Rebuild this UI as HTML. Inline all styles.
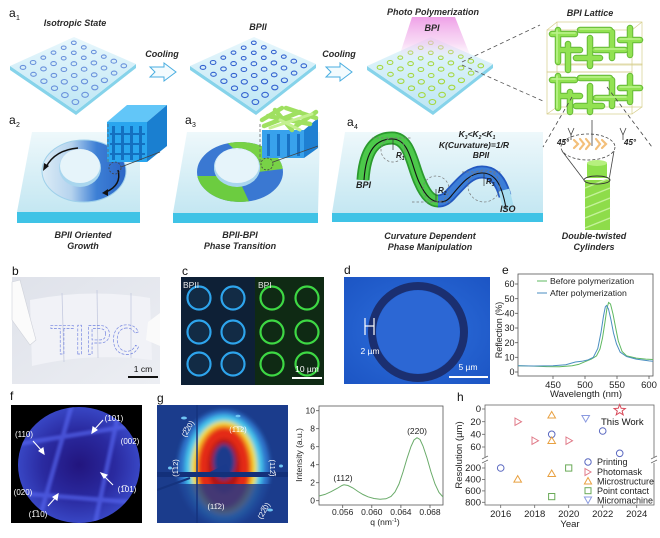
<!DOCTYPE html>
<html><head><meta charset="utf-8"><style>
html,body{margin:0;padding:0;background:#fff;}
svg{display:block;}
text{font-family:"Liberation Sans",Arial,sans-serif;}
.cap{font-weight:bold;font-style:italic;font-size:9px;fill:#2a2a2a;text-anchor:middle;}
.pl{font-size:12px;fill:#111;}
.tk{font-size:9.5px;fill:#222;}
.tk9{font-size:9px;fill:#222;}
.tk8{font-size:8.5px;fill:#222;}
</style></head><body>
<svg width="660" height="538" viewBox="0 0 660 538" xmlns="http://www.w3.org/2000/svg">
<defs>
<linearGradient id="pTop" x1="0" y1="0" x2="0" y2="1"><stop offset="0" stop-color="#e8f7fc"/><stop offset="1" stop-color="#bde6f4"/></linearGradient>
<linearGradient id="slab" x1="0" y1="0" x2="0" y2="1"><stop offset="0" stop-color="#eef8fb"/><stop offset="1" stop-color="#c4e7f2"/></linearGradient>
<linearGradient id="pink" x1="0" y1="0" x2="0" y2="1"><stop offset="0" stop-color="#ee9be6" stop-opacity="0.95"/><stop offset="0.6" stop-color="#f3c0ee" stop-opacity="0.6"/><stop offset="1" stop-color="#f8e0f6" stop-opacity="0"/></linearGradient>
<linearGradient id="ring2" x1="0" y1="0" x2="1" y2="0"><stop offset="0" stop-color="#dcecf6"/><stop offset="0.35" stop-color="#b5d3ee"/><stop offset="0.65" stop-color="#3d7fd5"/><stop offset="1" stop-color="#2b66c6"/></linearGradient>
<radialGradient id="fcirc" cx="0.5" cy="0.5" r="0.5"><stop offset="0" stop-color="#22157e"/><stop offset="0.6" stop-color="#2a2aa0"/><stop offset="1" stop-color="#3846c4"/></radialGradient>
<radialGradient id="dbg" cx="0.5" cy="0.5" r="0.7"><stop offset="0" stop-color="#2e6fdc"/><stop offset="1" stop-color="#1c55c4"/></radialGradient>
<linearGradient id="bphoto" x1="0" y1="0" x2="1" y2="1"><stop offset="0" stop-color="#dfe2ea"/><stop offset="1" stop-color="#eceef3"/></linearGradient>
<filter id="bl"><feGaussianBlur stdDeviation="1.4"/></filter>
<filter id="bl2"><feGaussianBlur stdDeviation="2"/></filter>
<clipPath id="fclip"><ellipse cx="79" cy="465" rx="61" ry="58"/></clipPath>
<clipPath id="gclip"><rect x="157" y="405" width="131" height="118"/></clipPath>
<clipPath id="r3clip"><path d="M197,172 a43,30 0 1,0 86,0 a43,30 0 1,0 -86,0 Z M214,167 a23,19 0 1,1 46,0 a23,19 0 1,1 -46,0 Z" fill-rule="evenodd"/></clipPath>
<g id="plate">
<polygon points="10,66 76,111 136,64 136,68 76,115 10,70" fill="#86d3ea"/>
<polygon points="74,37 136,64 76,111 10,66" fill="url(#pTop)"/>
</g>
<g id="grid" fill="none" stroke-width="1.1">
<ellipse cx="73.8" cy="42.8" rx="2.4" ry="1.7"/><ellipse cx="63.7" cy="47.7" rx="2.4" ry="1.7"/><ellipse cx="53.5" cy="52.6" rx="2.4" ry="1.7"/><ellipse cx="43.3" cy="57.6" rx="2.4" ry="1.7"/><ellipse cx="33.1" cy="62.5" rx="2.8" ry="2"/><ellipse cx="23" cy="67.4" rx="2.8" ry="2"/>
<ellipse cx="83.8" cy="47.4" rx="2.4" ry="1.7"/><ellipse cx="73.8" cy="52.8" rx="2.4" ry="1.7"/><ellipse cx="63.7" cy="58.2" rx="2.4" ry="1.7"/><ellipse cx="53.6" cy="63.6" rx="2.8" ry="2"/><ellipse cx="43.5" cy="68.9" rx="2.8" ry="2"/><ellipse cx="33.5" cy="74.3" rx="2.8" ry="2"/>
<ellipse cx="93.8" cy="52" rx="2.4" ry="1.7"/><ellipse cx="83.8" cy="57.8" rx="2.4" ry="1.7"/><ellipse cx="73.9" cy="63.7" rx="2.8" ry="2"/><ellipse cx="63.9" cy="69.5" rx="2.8" ry="2"/><ellipse cx="53.9" cy="75.4" rx="2.8" ry="2"/><ellipse cx="43.9" cy="81.2" rx="3.1" ry="2.3"/>
<ellipse cx="103.8" cy="56.6" rx="2.4" ry="1.7"/><ellipse cx="93.9" cy="62.9" rx="2.8" ry="2"/><ellipse cx="84.1" cy="69.2" rx="2.8" ry="2"/><ellipse cx="74.2" cy="75.5" rx="2.8" ry="2"/><ellipse cx="64.3" cy="81.8" rx="3.1" ry="2.3"/><ellipse cx="54.5" cy="88.2" rx="3.1" ry="2.3"/>
<ellipse cx="113.8" cy="61.2" rx="2.8" ry="2"/><ellipse cx="104" cy="68" rx="2.8" ry="2"/><ellipse cx="94.2" cy="74.8" rx="2.8" ry="2"/><ellipse cx="84.5" cy="81.5" rx="3.1" ry="2.3"/><ellipse cx="74.7" cy="88.3" rx="3.1" ry="2.3"/><ellipse cx="64.9" cy="95.1" rx="3.3" ry="2.5"/>
<ellipse cx="123.8" cy="65.8" rx="2.8" ry="2"/><ellipse cx="114.1" cy="73.1" rx="2.8" ry="2"/><ellipse cx="104.4" cy="80.3" rx="3.1" ry="2.3"/><ellipse cx="94.8" cy="87.5" rx="3.1" ry="2.3"/><ellipse cx="85.1" cy="94.8" rx="3.3" ry="2.5"/><ellipse cx="75.4" cy="102" rx="3.3" ry="2.5"/>
</g>
</defs>
<rect width="660" height="538" fill="#fff"/>

<!-- ===== Row a1 ===== -->
<text x="9" y="17" class="pl">a</text><text x="16" y="20" font-size="7" fill="#111">1</text>
<text x="75" y="26" class="cap">Isotropic State</text>
<text x="258" y="30" class="cap">BPII</text>
<text x="433" y="15" class="cap">Photo Polymerization</text>
<text x="590" y="16" class="cap">BPI Lattice</text>
<text x="162" y="57" class="cap">Cooling</text>
<text x="339" y="57" class="cap">Cooling</text>

<use href="#plate"/>
<use href="#grid" stroke="#6a92dc"/>
<use href="#plate" transform="translate(180,0)"/>
<use href="#grid" transform="translate(180,0)" stroke="#3463d0"/>
<use href="#plate" transform="translate(357,0)"/>
<use href="#grid" transform="translate(357,0)" stroke="#a6d840"/>
<polygon points="412,17 455,17 472,60 398,60" fill="url(#pink)"/>
<text x="432" y="31" class="cap">BPI</text>

<polygon points="150,67 164,67 164,63 176,72 164,81 164,77 150,77 155,72" fill="#f3fbfe" stroke="#4aaee0" stroke-width="1"/>
<polygon points="326,67 340,67 340,63 352,72 340,81 340,77 326,77 331,72" fill="#f3fbfe" stroke="#4aaee0" stroke-width="1"/>

<line x1="462" y1="62" x2="540" y2="25" stroke="#555" stroke-width="0.8" stroke-dasharray="4,3"/>
<line x1="462" y1="65" x2="543" y2="101" stroke="#555" stroke-width="0.8" stroke-dasharray="4,3"/>

<!-- BPI lattice -->
<g fill="none" stroke="#d6cd8a" stroke-width="0.7">
<rect x="557" y="22" width="85" height="43"/><rect x="547" y="30" width="85" height="42"/>
<rect x="557" y="64" width="85" height="43"/><rect x="547" y="72" width="85" height="42"/>
<line x1="547" y1="30" x2="557" y2="22"/><line x1="632" y1="30" x2="642" y2="22"/><line x1="632" y1="114" x2="642" y2="107"/><line x1="547" y1="114" x2="557" y2="107"/>
</g>
<g stroke-linecap="round" fill="none">
<g stroke="#62b834" stroke-width="6.5">
<path d="M552,34H575M558,30V62M568,44V70M580,30H610M590,38V66M595,50H625M612,32V58M620,40H640M630,28V55M576,58H600M560,50H580"/>
<path d="M552,80H575M558,76V108M570,92V112M580,78H610M590,86V112M596,98H626M612,80V106M620,88H640M630,76V102M576,106H602M560,96H580"/>
</g>
<g stroke="#92e252" stroke-width="4.6">
<path d="M552,34H575M558,30V62M568,44V70M580,30H610M590,38V66M595,50H625M612,32V58M620,40H640M630,28V55M576,58H600M560,50H580"/>
<path d="M552,80H575M558,76V108M570,92V112M580,78H610M590,86V112M596,98H626M612,80V106M620,88H640M630,76V102M576,106H602M560,96H580"/>
</g>
<g stroke="#bdf38e" stroke-width="1.5">
<path d="M552,33H575M557,30V62M580,29H610M595,49H625M620,39H640M552,79H575M557,76V108M580,77H610M596,97H626M620,87H640"/>
</g>
</g>

<!-- ===== Row a2-a4 ===== -->
<text x="9" y="124" class="pl">a</text><text x="16" y="127" font-size="7" fill="#111">2</text>
<text x="185" y="124" class="pl">a</text><text x="192" y="127" font-size="7" fill="#111">3</text>
<text x="347" y="126" class="pl">a</text><text x="354" y="129" font-size="7" fill="#111">4</text>

<!-- a2 slab -->
<polygon points="32,132 140,132 140,212 17,212" fill="url(#slab)"/>
<rect x="17" y="212" width="123" height="11" fill="#3fc3e6"/>
<ellipse cx="84" cy="171" rx="42" ry="31" fill="url(#ring2)"/>
<ellipse cx="84" cy="171" rx="42" ry="31" fill="none" stroke="#9fd0ea" stroke-width="1"/>
<ellipse cx="80" cy="168" rx="21" ry="19" fill="#a9d6ee"/>
<ellipse cx="80" cy="166" rx="20" ry="17" fill="#e6f4fa"/>
<path d="M78,148 Q55,150 46,167" fill="none" stroke="#111" stroke-width="1.4"/>
<polygon points="43,171 44,163 49,166" fill="#111"/>
<path d="M118,170 Q122,185 106,192" fill="none" stroke="#111" stroke-width="1.4"/>
<polygon points="102,193 108,189 108,196" fill="#111"/>
<!-- a2 cube -->
<polygon points="107,122 127,105 167,105 147,122" fill="#62c6f8"/>
<polygon points="147,122 167,105 167,146 147,162" fill="#1a7fd0"/>
<rect x="107" y="122" width="40" height="40" fill="#2aa6ef"/>
<g fill="#1470c0">
<rect x="112" y="126" width="3" height="34"/><rect x="121" y="126" width="3" height="34"/><rect x="130" y="126" width="3" height="34"/><rect x="139" y="126" width="3" height="34"/>
<rect x="110" y="133" width="35" height="2"/><rect x="110" y="143" width="35" height="2"/><rect x="110" y="153" width="35" height="2"/>
</g>
<line x1="108" y1="124" x2="108" y2="163" stroke="#666" stroke-width="0.8" stroke-dasharray="3,2"/>
<circle cx="115" cy="168" r="6" fill="none" stroke="#444" stroke-width="0.8" stroke-dasharray="2,1.5"/>
<line x1="121" y1="167" x2="160" y2="152" stroke="#444" stroke-width="0.8"/>
<text x="83" y="238" class="cap">BPII Oriented</text>
<text x="83" y="249" class="cap">Growth</text>

<!-- a3 slab -->
<polygon points="187,132 320,132 318,213 173,213" fill="url(#slab)"/>
<rect x="173" y="213" width="145" height="10" fill="#3fc3e6"/>
<g clip-path="url(#r3clip)">
<rect x="190" y="138" width="100" height="70" fill="#3a78d2"/>
<polygon points="222,138 290,138 290,168 258,172 246,160" fill="#78d246"/>
<polygon points="190,176 220,176 240,182 252,208 190,208" fill="#6ccc40"/>
</g>
<ellipse cx="237" cy="168" rx="23" ry="19" fill="#a9d6ee"/>
<ellipse cx="237" cy="166" rx="22" ry="17" fill="#e6f4fa"/>
<!-- a3 cube -->
<rect x="262" y="130" width="42" height="28" fill="#38a2ec"/>
<polygon points="304,130 318,118 318,148 304,158" fill="#1e80d2"/>
<g fill="#1872c4"><rect x="267" y="134" width="3" height="22"/><rect x="277" y="134" width="3" height="22"/><rect x="287" y="134" width="3" height="22"/><rect x="297" y="134" width="3" height="22"/></g>
<g stroke-linecap="round" stroke-width="4.5" fill="none">
<path d="M264,126 L300,112 M268,116 L310,124 M275,110 L292,130 M286,108 L316,118 M262,120 L282,108 M296,126 L316,112" stroke="#9fe060"/>
<path d="M270,128 L312,114 M280,120 L300,130" stroke="#c4f090" stroke-width="3"/>
</g>
<line x1="260" y1="124" x2="260" y2="162" stroke="#666" stroke-width="0.8" stroke-dasharray="3,2"/>
<circle cx="267" cy="164" r="6" fill="none" stroke="#444" stroke-width="0.8" stroke-dasharray="2,1.5"/>
<line x1="273" y1="162" x2="318" y2="146" stroke="#444" stroke-width="0.8"/>
<text x="240" y="238" class="cap">BPII-BPI</text>
<text x="240" y="249" class="cap">Phase Transition</text>

<!-- a4 slab -->
<polygon points="345,132 543,132 543,213 332,213" fill="url(#slab)"/>
<rect x="332" y="213" width="211" height="9" fill="#3fc3e6"/>
<g fill="none" stroke-linecap="butt">
<path d="M363,180 C365,150 375,138 392,138 C410,138 412,165 420,182 C426,196 432,201 438,201" stroke="#2b9a2e" stroke-width="13"/>
<path d="M363,180 C365,150 375,138 392,138 C410,138 412,165 420,182 C426,196 432,201 438,201" stroke="#4cc94a" stroke-width="9.5"/>
<path d="M438,201 C443,201 446,199 450,195 C462,182 470,172 482,172 C496,172 502,185 505,196" stroke="#2358c0" stroke-width="13"/>
<path d="M438,201 C443,201 446,199 450,195 C462,182 470,172 482,172 C496,172 502,185 505,196" stroke="#3c7ed8" stroke-width="9.5"/>
<path d="M504,190 L509,210" stroke="#a8def0" stroke-width="11"/>
<path d="M364,180 C366,150 376,139 392,139 C410,139 411,165 419,182 C426,197 432,202 440,202 C446,202 449,199 452,195 C462,183 470,173 482,173 C496,173 502,186 506,208" stroke="#111" stroke-width="1.1"/>
</g>
<g fill="none" stroke="#777" stroke-width="0.7" stroke-dasharray="2.5,2">
<line x1="372" y1="138" x2="412" y2="138"/><line x1="412" y1="202" x2="452" y2="202"/><line x1="462" y1="172" x2="502" y2="172"/>
<circle cx="393" cy="150" r="12"/><circle cx="436" cy="189" r="13"/><circle cx="484" cy="186" r="16"/>
</g>
<g stroke="#333" stroke-width="0.7"><line x1="393" y1="139" x2="393" y2="150"/><line x1="436" y1="189" x2="436" y2="201"/><line x1="484" y1="173" x2="484" y2="186"/></g>
<g font-weight="bold" font-style="italic" font-size="8px" fill="#222">
<text x="396" y="158">R<tspan font-size="5" dy="2">1</tspan></text>
<text x="438" y="193">R<tspan font-size="5" dy="2">2</tspan></text>
<text x="486" y="184">R<tspan font-size="5" dy="2">3</tspan></text>
<text x="356" y="188" font-size="9px">BPI</text>
<text x="500" y="212" font-size="9px">ISO</text>
<text x="477" y="137" text-anchor="middle" font-size="8.5px">K<tspan font-size="5" dy="2">3</tspan><tspan dy="-2">&lt;K</tspan><tspan font-size="5" dy="2">2</tspan><tspan dy="-2">&lt;K</tspan><tspan font-size="5" dy="2">1</tspan></text>
<text x="474" y="148" text-anchor="middle" font-size="8.5px">K(Curvature)=1/R</text>
<text x="481" y="158" text-anchor="middle" font-size="8.5px">BPII</text>
</g>
<text x="430" y="239" class="cap">Curvature Dependent</text>
<text x="430" y="250" class="cap">Phase Manipulation</text>

<!-- cylinder -->
<g stroke="#444" stroke-width="0.8" fill="none">
<line x1="572" y1="97" x2="543" y2="147" stroke-dasharray="4,3"/>
<line x1="607" y1="87" x2="652" y2="147" stroke-dasharray="4,3"/>
<line x1="592" y1="120" x2="592" y2="146"/>
<ellipse cx="588" cy="147" rx="27" ry="13" stroke-dasharray="3,2"/>
<line x1="562" y1="151" x2="584" y2="180"/><line x1="614" y1="151" x2="609" y2="180"/>
<path d="M568,128 L571,135 L574,128 M571,135 V140"/>
<path d="M620,128 L623,135 L626,128 M623,135 V140"/>
</g>
<g fill="none" stroke="#f3bf7a" stroke-width="2.2" stroke-linecap="round">
<path d="M574,140 l4,4 l-4,4 M580,139 l4,5 l-4,5 M586,139 l4,5 l-4,5 M596,139 l4,5 l-4,5 M602,140 l4,4 l-4,4"/>
</g>
<text x="557" y="145" font-size="8px" font-weight="bold" font-style="italic" fill="#222">45°</text>
<text x="624" y="145" font-size="8px" font-weight="bold" font-style="italic" fill="#222">45°</text>
<rect x="587" y="163" width="20" height="15" fill="#8ee04c"/>
<ellipse cx="597" cy="163" rx="10" ry="3" fill="#b6f07e"/>
<rect x="585" y="180" width="25" height="50" fill="#8edc4a"/>
<g stroke="#c4f29a" stroke-width="1.4"><line x1="585" y1="188" x2="610" y2="178"/><line x1="585" y1="198" x2="610" y2="188"/><line x1="585" y1="208" x2="610" y2="198"/><line x1="585" y1="218" x2="610" y2="208"/><line x1="585" y1="228" x2="610" y2="218"/></g>
<ellipse cx="597" cy="180" rx="13" ry="4" fill="none" stroke="#333" stroke-width="0.9"/>
<text x="594" y="239" class="cap">Double-twisted</text>
<text x="594" y="250" class="cap">Cylinders</text>

<!-- ===== Row b-e ===== -->
<text x="12" y="275" class="pl">b</text>
<text x="182" y="275" class="pl">c</text>
<text x="344" y="274" class="pl">d</text>
<text x="502" y="274" class="pl">e</text>

<!-- b -->
<rect x="12" y="277" width="148" height="107" fill="url(#bphoto)"/>
<path d="M30,300 Q90,288 150,298 L152,360 Q90,352 32,366 Z" fill="#f1f2f7"/>
<g stroke="#c5cadf" stroke-width="0.8"><line x1="62" y1="293" x2="64" y2="362"/><line x1="97" y1="290" x2="98" y2="358"/><line x1="131" y1="293" x2="131" y2="358"/></g>
<polygon points="12,282 20,280 36,340 30,345 12,320" fill="#fbfbfb" stroke="#cfd2da" stroke-width="0.6"/>
<polygon points="160,313 148,322 146,340 160,346" fill="#fafafa"/>
<text x="50" y="354" font-size="42px" fill="none" stroke="#7384e0" stroke-width="0.7" stroke-dasharray="3,1.5" textLength="90" lengthAdjust="spacingAndGlyphs">TIPC</text>
<rect x="128" y="376" width="30" height="2" fill="#111"/>
<text x="143" y="372" font-size="8.5px" fill="#111" text-anchor="middle">1 cm</text>

<!-- c -->
<rect x="181" y="277" width="74" height="108" fill="#0e2036"/>
<rect x="255" y="277" width="69" height="108" fill="#0f2a14"/>
<g fill="#14304c" opacity="0.7"><circle cx="199" cy="298" r="10"/><circle cx="233" cy="298" r="10"/><circle cx="199" cy="332" r="10"/><circle cx="233" cy="332" r="10"/><circle cx="199" cy="364" r="10"/><circle cx="233" cy="364" r="10"/></g>
<g fill="none" stroke-width="2.2">
<g stroke="#2ea4ec"><circle cx="199" cy="298" r="11.5"/><circle cx="233" cy="298" r="11.5"/><circle cx="199" cy="332" r="11.5"/><circle cx="233" cy="332" r="11.5"/><circle cx="199" cy="364" r="11.5"/><circle cx="233" cy="364" r="11.5"/></g>
<g stroke="#3ed844"><circle cx="272" cy="298" r="11.5"/><circle cx="307" cy="298" r="11.5"/><circle cx="272" cy="332" r="11.5"/><circle cx="307" cy="332" r="11.5"/><circle cx="272" cy="364" r="11.5"/><circle cx="307" cy="364" r="11.5"/></g>
</g>
<text x="183" y="288" font-size="8.5px" fill="#e8e8e8">BPII</text>
<text x="258" y="288" font-size="8.5px" fill="#e8e8e8">BPI</text>
<rect x="292" y="377" width="30" height="2" fill="#fff"/>
<text x="307" y="372" font-size="8.5px" fill="#fff" text-anchor="middle">10 µm</text>

<!-- d -->
<rect x="344" y="277" width="146" height="107" fill="url(#dbg)"/>
<circle cx="418" cy="332" r="46" fill="none" stroke="#1b2f70" stroke-width="8"/>
<circle cx="418" cy="332" r="41.5" fill="#2c67d4"/>
<g stroke="#fff" stroke-width="1.2"><line x1="365" y1="318" x2="365" y2="335"/><line x1="374" y1="318" x2="374" y2="335"/><line x1="365" y1="326" x2="374" y2="326"/></g>
<text x="370" y="354" font-size="8.5px" fill="#fff" text-anchor="middle">2 µm</text>
<rect x="449" y="376" width="39" height="2" fill="#fff"/>
<text x="468" y="370" font-size="8.5px" fill="#fff" text-anchor="middle">5 µm</text>

<!-- e plot -->
<rect x="518" y="274" width="135" height="102" fill="none" stroke="#555" stroke-width="0.8"/>
<g stroke="#555" stroke-width="0.8">
<line x1="515" y1="372" x2="518" y2="372"/><line x1="515" y1="357.3" x2="518" y2="357.3"/><line x1="515" y1="342.7" x2="518" y2="342.7"/><line x1="515" y1="328" x2="518" y2="328"/><line x1="515" y1="313.3" x2="518" y2="313.3"/><line x1="515" y1="298.7" x2="518" y2="298.7"/><line x1="515" y1="284" x2="518" y2="284"/>
<line x1="553" y1="376" x2="553" y2="379"/><line x1="585" y1="376" x2="585" y2="379"/><line x1="617" y1="376" x2="617" y2="379"/><line x1="649" y1="376" x2="649" y2="379"/>
</g>
<g class="tk9" text-anchor="end">
<text x="514.5" y="375.2">0</text><text x="514.5" y="360.5">10</text><text x="514.5" y="345.9">20</text><text x="514.5" y="331.2">30</text><text x="514.5" y="316.5">40</text><text x="514.5" y="301.9">50</text><text x="514.5" y="287.2">60</text>
</g>
<g class="tk" text-anchor="middle">
<text x="553" y="388">450</text><text x="585" y="388">500</text><text x="617" y="388">550</text><text x="649" y="388">600</text>
</g>
<text x="586" y="397" class="tk" text-anchor="middle">Wavelength (nm)</text>
<text transform="translate(502,330) rotate(-90)" class="tk9" text-anchor="middle">Reflection (%)</text>
<polyline fill="none" stroke="#5fb860" stroke-width="1" points="518,365.8 533.8,366.1 546.6,366.6 559.4,366.7 572.2,365.8 578.6,364.4 585,361.7 591.4,359.1 596.5,355.9 600,349 602.5,338 605,322 607,308 608.6,302.5 610.5,304 613,314 615.7,328 618.3,341 622.1,351.5 626.6,355.9 636.2,358.1 645.8,359.1 653,359.5"/>
<polyline fill="none" stroke="#4a8ec0" stroke-width="1" points="518,365.7 533.8,366 553,365.7 565.8,364.7 575.4,362 581.8,361.3 588.2,359.8 593.3,357.3 597.8,348.5 601,332.4 603.5,316 605.3,307 606.5,305.5 608.5,309 611,320 613.5,333 616.5,344 620.2,352.2 626.6,356.6 636.2,359.1 649,360.9 653,361.3"/>
<line x1="537" y1="281" x2="547" y2="281" stroke="#5fb860" stroke-width="1"/>
<text x="550" y="284" font-size="8.7px" fill="#222">Before polymerization</text>
<line x1="537" y1="293" x2="547" y2="293" stroke="#4a8ec0" stroke-width="1"/>
<text x="550" y="296" font-size="8.7px" fill="#222">After polymerization</text>

<!-- ===== Row f-h ===== -->
<text x="10" y="400" class="pl">f</text>
<text x="157" y="402" class="pl">g</text>
<text x="457" y="401" class="pl">h</text>

<!-- f -->
<rect x="11" y="405" width="131" height="118" fill="#000"/>
<ellipse cx="79" cy="465" rx="61" ry="58" fill="url(#fcirc)"/>
<g clip-path="url(#fclip)">
<g stroke="#5464ec" stroke-width="4.5" fill="none" filter="url(#bl)" opacity="0.7">
<line x1="18" y1="444" x2="142" y2="424"/>
<line x1="16" y1="493" x2="142" y2="503"/>
<line x1="72" y1="404" x2="38" y2="524"/>
<line x1="120" y1="406" x2="95" y2="524"/>
</g>
</g>
<g font-size="8px" fill="#fff" text-anchor="middle">
<text x="114" y="421">(101)</text>
<text x="24" y="437">(110)</text>
<text x="130" y="444">(002)</text>
<text x="23" y="495">(020)</text>
<text x="127" y="492">(1̅01)</text>
<text x="38" y="517">(1̅10)</text>
</g>
<g stroke="#fff" stroke-width="1.1" fill="#fff">
<line x1="103" y1="420" x2="94" y2="430"/><polygon points="92,433 93,427 97,430"/>
<line x1="33" y1="441" x2="42" y2="451"/><polygon points="44,454 39,451 43,448"/>
<line x1="113" y1="485" x2="104" y2="476"/><polygon points="101,473 107,475 104,478"/>
<line x1="48" y1="506" x2="56" y2="497"/><polygon points="58,494 57,500 53,497"/>
</g>

<!-- g -->
<rect x="157" y="405" width="131" height="118" fill="#1b3c8c"/>
<g clip-path="url(#gclip)">
<g filter="url(#bl2)">
<ellipse cx="224" cy="468" rx="46" ry="58" fill="#2f74cc"/>
<ellipse cx="224" cy="468" rx="39" ry="53" fill="#46c8ee"/>
<ellipse cx="224" cy="468" rx="33" ry="47" fill="#f0e634"/>
<ellipse cx="224" cy="468" rx="29" ry="43.5" fill="#f59a20"/>
<ellipse cx="224" cy="468" rx="26" ry="40.5" fill="#e42c12"/>
<ellipse cx="224" cy="466" rx="16" ry="27" fill="#b01412"/>
<ellipse cx="224" cy="462" rx="11" ry="18" fill="#1a3a8c"/>
</g>
<rect x="157" y="484" width="131" height="40" fill="#1b3c8c" opacity="0.8"/>
<polygon points="202,476 232,476 226,464" fill="#1a3a8c"/>
<rect x="157" y="472" width="131" height="5" fill="#13307a"/>
<line x1="197" y1="405" x2="197" y2="523" stroke="#15337e" stroke-width="1.5"/>
<line x1="157" y1="490" x2="190" y2="478" stroke="#15337e" stroke-width="2"/>
</g>
<g fill="#6fc4f4">
<ellipse cx="184" cy="418" rx="3" ry="1.5"/><ellipse cx="238" cy="416" rx="2.5" ry="1.3"/><ellipse cx="170" cy="468" rx="2" ry="1.5"/><ellipse cx="281" cy="466" rx="2" ry="1.5"/><ellipse cx="270" cy="510" rx="3" ry="1.5"/>
</g>
<g font-size="7.5px" fill="#fff" text-anchor="middle">
<text transform="translate(190,430) rotate(-60)">(2̅20)</text>
<text x="238" y="432">(1̅1̅2)</text>
<text transform="translate(178,468) rotate(-90)">(1̅12)</text>
<text transform="translate(270,468) rotate(90)">(112̅)</text>
<text x="216" y="509">(11̅2)</text>
<text transform="translate(266,512) rotate(-60)">(22̅0)</text>
</g>

<!-- intensity plot -->
<rect x="319" y="406" width="124" height="99" fill="none" stroke="#555" stroke-width="0.8"/>
<g stroke="#555" stroke-width="0.8">
<line x1="316" y1="500.7" x2="319" y2="500.7"/><line x1="316" y1="482.7" x2="319" y2="482.7"/><line x1="316" y1="464.7" x2="319" y2="464.7"/><line x1="316" y1="446.7" x2="319" y2="446.7"/><line x1="316" y1="428.7" x2="319" y2="428.7"/><line x1="316" y1="410.7" x2="319" y2="410.7"/>
<line x1="342.7" y1="505" x2="342.7" y2="508"/><line x1="371.8" y1="505" x2="371.8" y2="508"/><line x1="400.9" y1="505" x2="400.9" y2="508"/><line x1="430" y1="505" x2="430" y2="508"/>
</g>
<g class="tk8" text-anchor="end">
<text x="315" y="503.7">0</text><text x="315" y="485.7">2</text><text x="315" y="467.7">4</text><text x="315" y="449.7">6</text><text x="315" y="431.7">8</text><text x="315" y="413.7">10</text>
</g>
<g class="tk8" text-anchor="middle">
<text x="342.7" y="515">0.056</text><text x="371.8" y="515">0.060</text><text x="400.9" y="515">0.064</text><text x="430" y="515">0.068</text>
</g>
<text x="385" y="525" class="tk8" text-anchor="middle">q (nm<tspan font-size="5.5" dy="-3">-1</tspan><tspan dy="3">)</tspan></text>
<text transform="translate(302,455) rotate(-90)" class="tk8" text-anchor="middle">Intensity (a.u.)</text>
<polyline fill="none" stroke="#6aab6a" stroke-width="1" points="319,496 325,494.4 331,491.7 337,488.5 342,485.5 344,484.8 348,485.5 353,488 358,491.5 363,494.5 368,496.8 374,498.5 380,499.2 386,498.8 391,496.5 395,492 399,484 403,472 407,458.5 411,446.5 414,440 417,437.7 420,439.5 423,446 427,458 431,472 435,484 439,492.5 443,497"/>
<text x="343" y="481" class="tk8" text-anchor="middle">(112)</text>
<text x="417" y="434" class="tk8" text-anchor="middle">(220)</text>

<!-- h plot -->
<rect x="485" y="405" width="169" height="100" fill="none" stroke="#666" stroke-width="0.8"/>
<rect x="483" y="457" width="4" height="6" fill="#fff"/>
<rect x="652" y="457" width="4" height="6" fill="#fff"/>
<g stroke="#666" stroke-width="0.7"><line x1="482" y1="459" x2="488" y2="456"/><line x1="482" y1="463" x2="488" y2="460"/><line x1="651" y1="459" x2="657" y2="456"/><line x1="651" y1="463" x2="657" y2="460"/></g>
<g stroke="#666" stroke-width="0.8">
<line x1="482" y1="409" x2="485" y2="409"/><line x1="482" y1="421.7" x2="485" y2="421.7"/><line x1="482" y1="434.3" x2="485" y2="434.3"/><line x1="482" y1="447" x2="485" y2="447"/>
<line x1="482" y1="468" x2="485" y2="468"/><line x1="482" y1="479.4" x2="485" y2="479.4"/><line x1="482" y1="490.9" x2="485" y2="490.9"/><line x1="482" y1="502.3" x2="485" y2="502.3"/>
<line x1="500.7" y1="505" x2="500.7" y2="508"/><line x1="534.7" y1="505" x2="534.7" y2="508"/><line x1="568.7" y1="505" x2="568.7" y2="508"/><line x1="602.7" y1="505" x2="602.7" y2="508"/><line x1="636.7" y1="505" x2="636.7" y2="508"/>
</g>
<g class="tk" text-anchor="end">
<text x="481" y="412">0</text><text x="481" y="425">20</text><text x="481" y="437.5">40</text><text x="481" y="450">60</text>
<text x="481" y="471">200</text><text x="481" y="482.5">400</text><text x="481" y="494">600</text><text x="481" y="505.5">800</text>
</g>
<g class="tk" text-anchor="middle">
<text x="500.7" y="517">2016</text><text x="534.7" y="517">2018</text><text x="568.7" y="517">2020</text><text x="602.7" y="517">2022</text><text x="636.7" y="517">2024</text>
</g>
<text x="570" y="527" class="tk" text-anchor="middle">Year</text>
<text transform="translate(462,455) rotate(-90)" class="tk" text-anchor="middle">Resolution (µm)</text>
<g fill="none" stroke-width="1">
<g stroke="#5a68c0"><circle cx="500.7" cy="468" r="3.3"/><circle cx="551.7" cy="434.3" r="3.3"/><circle cx="602.7" cy="431" r="3.3"/><circle cx="619.7" cy="453.3" r="3.3"/></g>
<g stroke="#e07a88"><polygon points="515,418 521.5,421.7 515,425.4"/><polygon points="532,437 538.5,440.7 532,444.4"/><polygon points="566,437 572.5,440.7 566,444.4"/></g>
<g stroke="#e8a040"><polygon points="551.7,411.5 555.5,418 547.9,418"/><polygon points="551.7,437 555.5,443.5 547.9,443.5"/><polygon points="517.7,475.6 521.5,482.1 513.9,482.1"/><polygon points="551.7,470 555.5,476.5 547.9,476.5"/></g>
<g stroke="#6aaa58"><rect x="565.6" y="464.9" width="6.2" height="6.2"/><rect x="548.6" y="493.5" width="6.2" height="6.2"/></g>
<g stroke="#8a9ae0"><polygon points="581.9,415.5 589.5,415.5 585.7,422"/></g>
<polygon stroke="#d84858" points="619.7,404.5 621.2,408.3 625.3,408.5 622.1,411 623.2,414.9 619.7,412.6 616.2,414.9 617.3,411 614.1,408.5 618.2,408.3"/>
</g>
<text x="601" y="425" font-size="9.5px" fill="#111">This Work</text>
<g fill="none" stroke-width="1">
<circle cx="588" cy="462" r="3.2" stroke="#5a68c0"/>
<polygon points="585,468.5 591,472 585,475.5" stroke="#e07a88"/>
<polygon points="588,477.5 591.6,484 584.4,484" stroke="#e8a040"/>
<rect x="585" y="487.7" width="6" height="6" stroke="#6aaa58"/>
<polygon points="584.4,497 591.6,497 588,503.5" stroke="#8a9ae0"/>
</g>
<g font-size="9px" fill="#222">
<text x="597" y="465">Printing</text>
<text x="597" y="475">Photomask</text>
<text x="597" y="484.5">Microstructure</text>
<text x="597" y="494">Point contact</text>
<text x="597" y="503.5">Micromachine</text>
</g>
</svg>
</body></html>
